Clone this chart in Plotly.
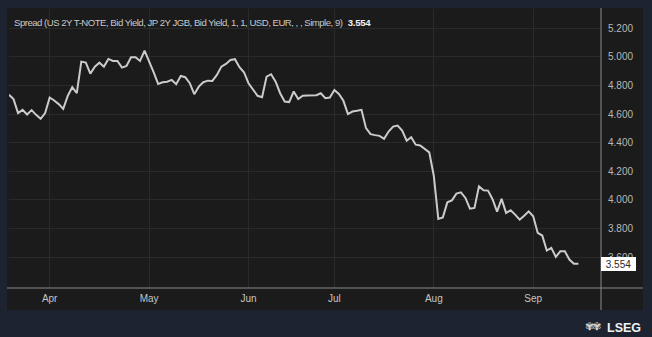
import pandas as pd
import plotly.graph_objects as go

# US 2Y minus JP 2Y bid-yield spread, one value per trading day, split by month
mar_values = [4.735, 4.705, 4.607, 4.630, 4.597, 4.628, 4.595, 4.567, 4.607]
apr_values = [4.716, 4.695, 4.670, 4.637, 4.728, 4.788, 4.746, 4.967, 4.960, 4.883,
              4.932, 4.960, 4.932, 4.986, 4.972, 4.972, 4.925, 4.937, 4.998, 4.998,
              4.972, 5.044]
may_values = [4.974, 4.893, 4.811, 4.823, 4.827, 4.839, 4.809, 4.867, 4.858, 4.816,
              4.739, 4.792, 4.823, 4.834, 4.832, 4.874, 4.932, 4.951, 4.979, 4.984,
              4.928, 4.893]
jun_values = [4.816, 4.769, 4.728, 4.718, 4.862, 4.879, 4.827, 4.746, 4.688, 4.684,
              4.758, 4.705, 4.728, 4.730, 4.732, 4.732, 4.746, 4.711, 4.716]
jul_values = [4.769, 4.741, 4.693, 4.600, 4.618, 4.623, 4.630, 4.502, 4.460, 4.453,
              4.448, 4.427, 4.478, 4.513, 4.520, 4.485, 4.414, 4.439, 4.386, 4.381,
              4.356, 4.332]
aug_values = [4.169, 3.867, 3.878, 3.983, 3.997, 4.044, 4.053, 4.014, 3.939, 3.944,
              4.095, 4.067, 4.065, 4.005, 3.918, 4.007, 3.909, 3.927, 3.897, 3.862,
              3.890, 3.920]
sep_values = [3.885, 3.769, 3.751, 3.646, 3.665, 3.602, 3.641, 3.641, 3.583, 3.553,
              3.554]

holidays = ["2024-03-29", "2024-05-27", "2024-06-19", "2024-07-04", "2024-09-02"]
first_day = "2024-03-18"
last_day = "2024-09-17"
axis_end = "2024-09-24"

month_ticks = ["2024-04-01", "2024-05-01", "2024-06-03", "2024-07-01", "2024-08-01", "2024-09-03"]
y_ticks = [3.6, 3.8, 4.0, 4.2, 4.4, 4.6, 4.8, 5.0, 5.2]

title_text = "Spread (US 2Y T-NOTE, Bid Yield, JP 2Y JGB, Bid Yield, 1, 1, USD, EUR, , , Simple, 9)"

values = mar_values + apr_values + may_values + jun_values + jul_values + aug_values + sep_values
dates = pd.bdate_range(first_day, last_day, freq="C", holidays=holidays)
assert len(dates) == len(values)
last_value = values[-1]

# page geometry (pixels)
W, H = 652, 337
ML, MR, MT, MB = 9, 51, 9, 49
PW, PH = W - ML - MR, H - MT - MB


def px_x(px):
    return (px - ML) / PW


def px_y(py):
    return 1 - (py - MT) / PH


OUTER = "#1e2331"
PANEL = "#1b1b1b"
GRID = "#2a2a2a"
SEP = "#8c8c8c"
TXT = "#b8b8b8"

fig = go.Figure()
fig.add_trace(go.Scatter(
    x=dates, y=values, mode="lines",
    line=dict(color="#cbcbcb", width=2),
    hoverinfo="skip", showlegend=False,
))

fig.update_layout(
    width=W, height=H,
    margin=dict(l=ML, r=MR, t=MT, b=MB, pad=0),
    paper_bgcolor=OUTER,
    plot_bgcolor=PANEL,
    font=dict(family="Liberation Sans, Arial, sans-serif", size=10, color=TXT),
    showlegend=False,
    xaxis=dict(
        range=[first_day, axis_end],
        rangebreaks=[dict(bounds=["sat", "mon"]), dict(values=holidays)],
        tickvals=month_ticks, tickformat="%b",
        showgrid=True, gridcolor=GRID, gridwidth=1,
        zeroline=False, showline=False, ticks="",
        ticklabelstandoff=3,
        tickfont=dict(size=10, color="#c4c4c4"),
        fixedrange=True,
    ),
    yaxis=dict(
        side="right",
        range=[3.384, 5.335],
        tickvals=y_ticks, tickformat=".3f",
        showgrid=True, gridcolor=GRID, gridwidth=1,
        zeroline=False, showline=False, ticks="",
        ticklabelstandoff=6,
        tickfont=dict(size=10, color=TXT),
        fixedrange=True,
    ),
)

# dark panel behind plot and axis strips
fig.add_shape(type="rect", xref="paper", yref="paper", layer="below",
              x0=px_x(7), x1=px_x(643), y0=px_y(310), y1=px_y(8),
              fillcolor=PANEL, line=dict(width=0))
# separators between plot area and axis strips
fig.add_shape(type="line", xref="paper", yref="paper", layer="above",
              x0=1, x1=1, y0=px_y(310), y1=px_y(8),
              line=dict(color=SEP, width=1))
fig.add_shape(type="line", xref="paper", yref="paper", layer="above",
              x0=px_x(7), x1=px_x(643), y0=0, y1=0,
              line=dict(color=SEP, width=1))

# study title with latest value (tight tracking for a condensed look)
fig.add_annotation(
    xref="paper", yref="paper", x=px_x(12), y=px_y(22.5),
    xanchor="left", yanchor="middle", showarrow=False,
    text=("<span style='letter-spacing:-0.5px'>" + title_text + "</span>"
          "  <b><span style='color:#f0f0f0;letter-spacing:-0.3px'>%.3f</span></b>" % last_value),
    font=dict(family="Liberation Sans, Arial, sans-serif", size=9.6, color="#c8c8c8"),
)

# last value marker on the price axis
fig.add_annotation(
    xref="paper", yref="y", x=1, y=last_value,
    xanchor="left", yanchor="middle", showarrow=False,
    text="%.3f" % last_value, align="center",
    width=33, height=12, borderpad=0, borderwidth=1,
    bgcolor="#ffffff", bordercolor="#ffffff",
    font=dict(size=10, color="#2a2a2a"),
)

# brand mark
fig.add_annotation(
    xref="paper", yref="paper", x=px_x(643), y=px_y(327.5),
    xanchor="right", yanchor="middle", showarrow=False,
    text="<b>LSEG</b>",
    font=dict(family="Liberation Sans, Arial, sans-serif", size=12.5, color="#f2f2f2"),
)
fig.add_annotation(
    xref="paper", yref="paper", x=px_x(593), y=px_y(326.5),
    xanchor="center", yanchor="middle", showarrow=False,
    text="<span style='letter-spacing:-2px'>✾✾</span>",
    font=dict(family="DejaVu Sans", size=11, color="#d8d8d8"),
)

fig.write_html("out.html")
